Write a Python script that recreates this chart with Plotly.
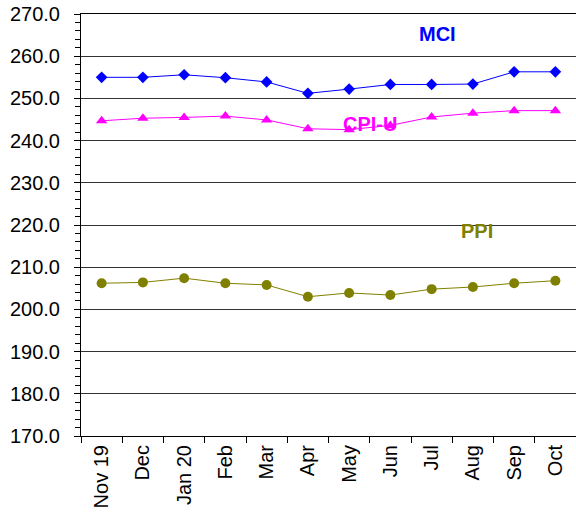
import plotly.graph_objects as go

months = ["Nov 19", "Dec", "Jan 20", "Feb", "Mar", "Apr", "May", "Jun", "Jul", "Aug", "Sep", "Oct"]
mci = [255.0, 255.0, 255.6, 254.9, 253.9, 251.2, 252.2, 253.3, 253.3, 253.4, 256.3, 256.3]
cpi_u = [244.7, 245.3, 245.5, 245.8, 244.9, 242.8, 242.6, 243.6, 245.6, 246.5, 247.1, 247.1]
ppi = [206.2, 206.4, 207.4, 206.2, 205.8, 203.0, 203.9, 203.4, 204.8, 205.3, 206.2, 206.8]

FONT = "Arial, Liberation Sans, sans-serif"

fig = go.Figure()
fig.add_trace(go.Scatter(x=months, y=mci, mode="lines+markers", name="MCI",
                         line=dict(color="#0000FF", width=1),
                         marker=dict(symbol="diamond", size=9, color="#0000FF")))
fig.add_trace(go.Scatter(x=months, y=cpi_u, mode="lines+markers", name="CPI-U",
                         line=dict(color="#FF00FF", width=1),
                         marker=dict(symbol="triangle-up", size=10, color="#FF00FF")))
fig.add_trace(go.Scatter(x=months, y=ppi, mode="lines+markers", name="PPI",
                         line=dict(color="#808000", width=1),
                         marker=dict(symbol="circle", size=10, color="#808000")))

fig.add_annotation(x=8.14, y=265.3, text="<b>MCI</b>", showarrow=False,
                   font=dict(family=FONT, size=20, color="#0000FF"))
fig.add_annotation(x=6.5, y=243.9, text="<b>CPI-U</b>", showarrow=False,
                   font=dict(family=FONT, size=20, color="#FF00FF"))
fig.add_annotation(x=9.09, y=218.65, text="<b>PPI</b>", showarrow=False,
                   font=dict(family=FONT, size=20, color="#808000"))

fig.update_layout(
    width=576, height=520,
    margin=dict(l=81, r=0, t=14, b=84, autoexpand=False),
    paper_bgcolor="white", plot_bgcolor="white",
    showlegend=False,
    font=dict(family=FONT, size=20, color="black"),
)
fig.update_xaxes(
    type="category", range=[-0.5, 11.5], automargin=False,
    tickson="boundaries", ticks="outside", ticklen=6, tickcolor="black",
    tickangle=-90, showgrid=False, showline=True, linecolor="black", linewidth=1,
    mirror=True, ticklabeloverflow="allow",
    tickfont=dict(family=FONT, size=20, color="black"),
)
fig.update_yaxes(
    range=[170, 270], dtick=10, tick0=170, tickformat=".1f", automargin=False,
    ticks="outside", ticklen=6, tickcolor="black",
    showgrid=True, gridcolor="#333333", gridwidth=1,
    showline=True, linecolor="black", linewidth=1,
    zeroline=False, ticklabelstandoff=10, ticklabeloverflow="allow",
    minor=dict(dtick=2, ticks="outside", ticklen=5, tickcolor="black", showgrid=False),
    tickfont=dict(family=FONT, size=20, color="black"),
)

# remove the default 8px page margin so the figure fills the window exactly
fig.write_html("out.html",
               config={"displayModeBar": False},
               post_script="document.body.style.margin='0';document.body.style.overflow='hidden';")
